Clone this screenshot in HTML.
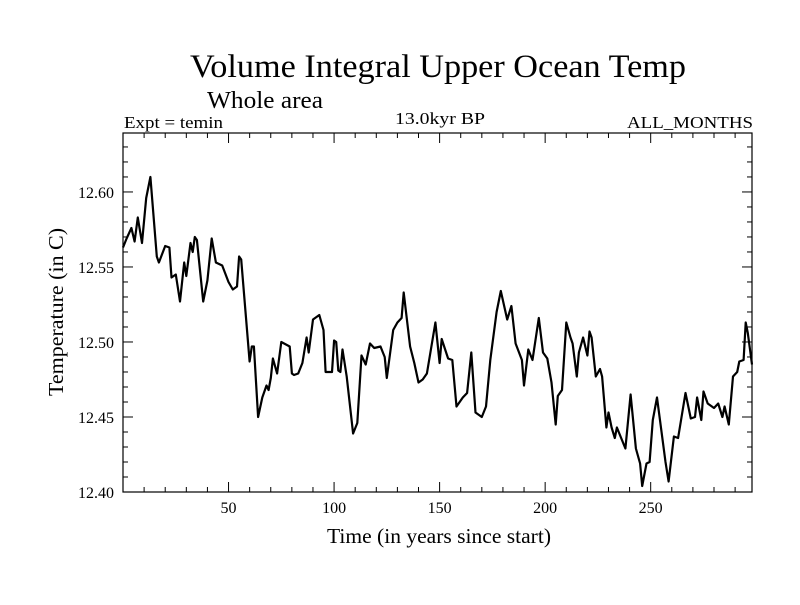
<!DOCTYPE html>
<html><head><meta charset="utf-8"><style>
body{margin:0;background:#fff}
svg text{font-family:"Liberation Serif",serif;fill:#000}
</style></head><body>
<svg id="chart" width="800" height="600" xmlns="http://www.w3.org/2000/svg">
<rect width="800" height="600" fill="#fff"/>
<text x="438" y="77" font-size="33" text-anchor="middle" textLength="496" lengthAdjust="spacingAndGlyphs">Volume Integral Upper Ocean Temp</text>
<text x="207" y="108" font-size="24" textLength="116" lengthAdjust="spacingAndGlyphs">Whole area</text>
<text x="124" y="128" font-size="17" textLength="99" lengthAdjust="spacingAndGlyphs">Expt = temin</text>
<text x="440" y="124" font-size="17" text-anchor="middle" textLength="90" lengthAdjust="spacingAndGlyphs">13.0kyr BP</text>
<text x="753" y="128" font-size="17" text-anchor="end" textLength="126" lengthAdjust="spacingAndGlyphs">ALL_MONTHS</text>
<text x="439" y="543" font-size="21" text-anchor="middle" textLength="224" lengthAdjust="spacingAndGlyphs">Time (in years since start)</text>
<text transform="translate(63,312) rotate(-90)" font-size="21" text-anchor="middle" textLength="168" lengthAdjust="spacingAndGlyphs">Temperature (in C)</text>
<g id="axes"></g>
<path id="series" fill="none" stroke="#000" stroke-width="2.2" stroke-linejoin="round"/>
<rect x="123" y="133" width="629" height="359" fill="none" stroke="#000" stroke-width="1.2"/>
</svg>
<script>
const years=[0,1.7,4,5.5,7,9,11,13,16,17,20,22,23,25,27,29,30,32,33,34,35,38,40,42,44,47,50,52,54,55,56,58,60,61,62,64,66,68,69,70,71,73,75,79,80,81,83,85,87,88,90,93,95,96,99,100,101,102,103,104,106,109,111,113,115,117,119,122,124,125,128,130,132,133,136,138,140,142,144,148,150,151,154,156,158,161,163,165,167,170,172,174,177,179,182,184,186,189,190,192,194,197,199,201,203,205,206,208,210,212,213,215,216,218,220,221,222,224,226,227,229,230,231.5,233,234,238,240.5,243,245,246,248,249.5,251,253,257,258.5,261,263,266.5,269,271,272,274,275,277,280,282,284,285,287,289,291,292,294,295,296,298];
const temps=[12.563,12.569,12.576,12.567,12.583,12.566,12.596,12.610,12.557,12.553,12.564,12.563,12.543,12.545,12.527,12.553,12.544,12.566,12.560,12.570,12.568,12.527,12.541,12.569,12.553,12.551,12.540,12.535,12.537,12.557,12.555,12.521,12.487,12.497,12.497,12.450,12.463,12.471,12.468,12.476,12.489,12.479,12.500,12.497,12.479,12.478,12.479,12.486,12.503,12.493,12.515,12.518,12.508,12.480,12.480,12.501,12.500,12.481,12.480,12.495,12.477,12.439,12.446,12.491,12.485,12.499,12.496,12.497,12.490,12.476,12.508,12.513,12.516,12.533,12.497,12.486,12.473,12.475,12.479,12.513,12.486,12.502,12.489,12.488,12.457,12.463,12.466,12.493,12.453,12.450,12.457,12.488,12.520,12.534,12.515,12.524,12.499,12.488,12.471,12.495,12.488,12.516,12.493,12.489,12.473,12.445,12.464,12.468,12.513,12.503,12.499,12.477,12.493,12.503,12.491,12.507,12.503,12.477,12.482,12.477,12.443,12.453,12.443,12.436,12.443,12.429,12.465,12.429,12.419,12.404,12.419,12.420,12.448,12.463,12.420,12.407,12.437,12.436,12.466,12.449,12.450,12.463,12.448,12.467,12.459,12.456,12.459,12.450,12.457,12.445,12.477,12.480,12.487,12.488,12.513,12.506,12.485];
const xTickLabels=["50","100","150","200","250"];
const yTickLabels=["12.40","12.45","12.50","12.55","12.60"];
const X0=123,X1=752,Y0=133,Y1=492;
const xMin=0,xMax=298,yMin=12.40,yMax=12.6393;
function xs(v){return X0+(v-xMin)/(xMax-xMin)*(X1-X0);}
function ys(v){return Y1-(v-yMin)/(yMax-yMin)*(Y1-Y0);}
const NS="http://www.w3.org/2000/svg";
const axes=document.getElementById('axes');
function line(x1,y1,x2,y2,name){const l=document.createElementNS(NS,'line');
l.setAttribute('x1',x1);l.setAttribute('y1',y1);l.setAttribute('x2',x2);l.setAttribute('y2',y2);
l.setAttribute('stroke','#000');l.setAttribute('stroke-width','1');


axes.appendChild(l);}
for(let v=10;v<xMax;v+=10){const x=xs(v),L=(v%50===0)?10:5;line(x,Y1,x,Y1-L,'x-tick');line(x,Y0,x,Y0+L,'x-tick-top');}
for(let i=0;i<=23;i++){const v=yMin+i*0.01;const y=ys(v),L=(i%5===0)?10:5;line(X0,y,X0+L,y,'y-tick');line(X1,y,X1-L,y,'y-tick-right');}
xTickLabels.forEach(s=>{const t=document.createElementNS(NS,'text');
t.setAttribute('x',xs(parseFloat(s)));t.setAttribute('y',Y1+21);t.setAttribute('font-size','16');t.setAttribute('text-anchor','middle');t.textContent=s;


axes.appendChild(t);});
yTickLabels.forEach(s=>{const t=document.createElementNS(NS,'text');
t.setAttribute('x',114);t.setAttribute('y',ys(parseFloat(s))+6);t.setAttribute('font-size','16');t.setAttribute('text-anchor','end');t.textContent=s;


axes.appendChild(t);});
document.getElementById('series').setAttribute('d',years.map((y,i)=>(i?'L':'M')+xs(y).toFixed(1)+' '+ys(temps[i]).toFixed(1)).join(' '));
</script>
</body></html>
